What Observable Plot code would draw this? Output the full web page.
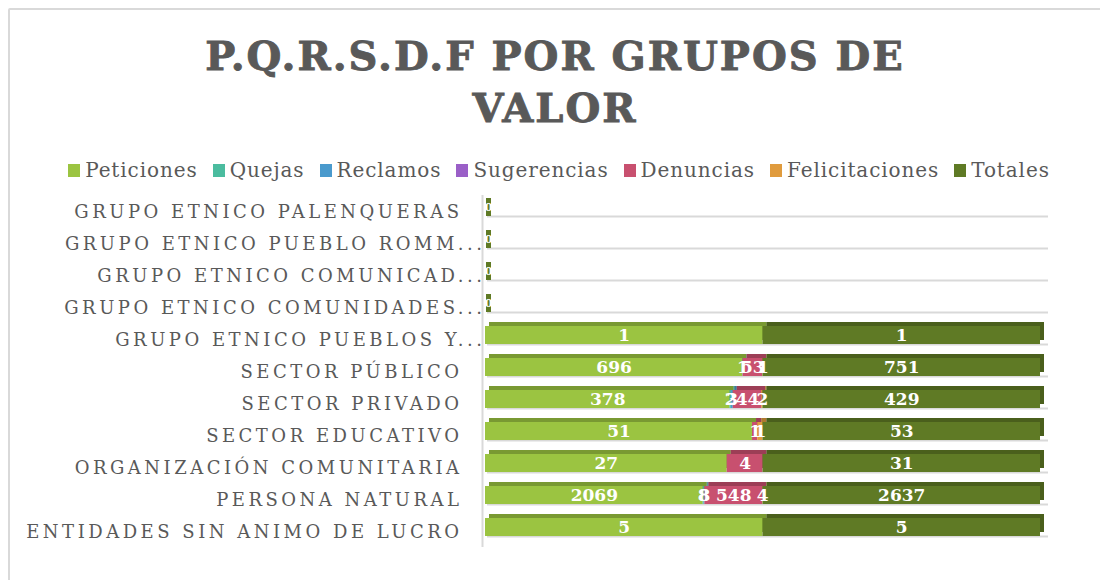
<!DOCTYPE html>
<html>
<head>
<meta charset="utf-8">
<script src="https://cdn.jsdelivr.net/npm/d3@7"></script>
<script src="https://cdn.jsdelivr.net/npm/@observablehq/plot@0.6"></script>
<style>
  html, body { margin: 0; padding: 0; background: #fff; }
  body { width: 1100px; height: 580px; overflow: hidden; position: relative; font-family: "DejaVu Serif", serif; }
  #frame { position: absolute; left: 8px; top: 8px; width: 1120px; height: 620px; border: 2px solid #d9d9d9; border-radius: 2px; }
  #title { position: absolute; left: 10px; width: 1090px; top: 30px; text-align: center; color: #595959;
           font-weight: bold; font-size: 40px; letter-spacing: 2px; line-height: 52px; white-space: nowrap;
           -webkit-text-stroke: 0.9px #595959; }
  #legend { position: absolute; top: 158px; left: 0; width: 1118px; display: flex; justify-content: center; gap: 15px;
            color: #595959; font-size: 20px; letter-spacing: 0.9px; white-space: nowrap; }
  #legend .item { display: flex; align-items: center; gap: 5px; }
  #legend .sw { width: 12px; height: 13px; display: inline-block; }
  #chart { position: absolute; left: 0; top: 190px; }
  #chart g[aria-label="y-axis tick label"] { letter-spacing: 3.5px; }
</style>
</head>
<body>
<div id="frame"></div>
<div id="title">P.Q.R.S.D.F POR GRUPOS DE<br>VALOR</div>
<div id="legend"></div>
<div id="chart"></div>
<script>
const categories = [
  "GRUPO ETNICO PALENQUERAS",
  "GRUPO ETNICO PUEBLO ROMM...",
  "GRUPO ETNICO COMUNICAD...",
  "GRUPO ETNICO COMUNIDADES...",
  "GRUPO ETNICO PUEBLOS Y...",
  "SECTOR PÚBLICO",
  "SECTOR PRIVADO",
  "SECTOR EDUCATIVO",
  "ORGANIZACIÓN COMUNITARIA",
  "PERSONA NATURAL",
  "ENTIDADES SIN ANIMO DE LUCRO"
];
const seriesNames = ["Peticiones", "Quejas", "Reclamos", "Sugerencias", "Denuncias", "Felicitaciones", "Totales"];
const seriesColors = ["#9bc441", "#4bbc9f", "#4a9acd", "#9a5fc7", "#c8506f", "#e09b3d", "#5f7a25"];

const peticiones     = [0, 0, 0, 0, 1, 696, 378, 51, 27, 2069, 5];
const quejas         = [0, 0, 0, 0, 0, 1, 2, 0, 0, 8, 0];
const reclamos       = [0, 0, 0, 0, 0, 0, 3, 0, 0, 8, 0];
const sugerencias    = [0, 0, 0, 0, 0, 0, 0, 0, 0, 0, 0];
const denuncias      = [0, 0, 0, 0, 0, 53, 44, 1, 4, 548, 0];
const felicitaciones = [0, 0, 0, 0, 0, 1, 2, 1, 0, 4, 0];
const totales        = [0, 0, 0, 0, 1, 751, 429, 53, 31, 2637, 5];

const seriesValues = [peticiones, quejas, reclamos, sugerencias, denuncias, felicitaciones, totales];

const data = [];
categories.forEach((c, i) => {
  seriesNames.forEach((s, j) => {
    data.push({group: c, series: s, value: seriesValues[j][i]});
  });
});
const zeroRows = categories.filter((c, i) => totales[i] === 0);
const truncated = categories.filter(c => c.endsWith("..."));
const full = categories.filter(c => !c.endsWith("..."));

// legend
const legend = document.getElementById("legend");
seriesNames.forEach((s, j) => {
  const it = document.createElement("span");
  it.className = "item";
  it.innerHTML = `<span class="sw" style="background:${seriesColors[j]}"></span><span>${s}</span>`;
  legend.appendChild(it);
});

const stackOpts = (extra) => Plot.stackX({x: "value", y: "group", z: "series", offset: "normalize", ...extra});

const chart = Plot.plot({
  width: 1100,
  height: 375,
  marginLeft: 485,
  marginRight: 60,
  marginTop: 5,
  marginBottom: 26,
  style: {fontFamily: "DejaVu Serif", background: "transparent", overflow: "visible"},
  x: {domain: [0, 1], axis: null},
  y: {domain: categories, paddingInner: 0.448, paddingOuter: 0, axis: null},
  color: {domain: seriesNames, range: seriesColors},
  marks: [
    Plot.ruleX([0], {dx: -3, stroke: "#d9d9d9", strokeWidth: 2, insetBottom: -8}),
    Plot.ruleY(categories, {y: d => d, dy: 9, dx: 2, insetRight: -6, stroke: "#d9d9d9", strokeWidth: 2}),
    // 3D back faces (top / side)
    Plot.barX(data, stackOpts({fill: "series", dx: 4, dy: -4})),
    Plot.barX(data, stackOpts({fill: "#000", fillOpacity: 0.22, dx: 4, dy: -4})),
    // front faces
    Plot.barX(data, stackOpts({fill: "series"})),
    // zero rows marker
    Plot.tickX(zeroRows, {x: 0, y: d => d, dx: 3, stroke: "#5f7a25", strokeWidth: 5}),
    Plot.text(zeroRows, {x: 0, y: d => d, text: () => "0", dx: 3, fill: "#fff", fontSize: 11, fontWeight: "bold"}),
    // labels
    Plot.textX(data, stackOpts({filter: d => d.value > 0, text: d => String(d.value), fill: "#fff",
      fontSize: 17, fontWeight: "bold"})),
    // category axis
    Plot.axisY(full, {anchor: "left", tickSize: 0, tickPadding: 23, dy: 5, fontSize: 18, fill: "#595959", label: null}),
    Plot.axisY(truncated, {anchor: "left", tickSize: 0, tickPadding: 0, dy: 5, fontSize: 18, fill: "#595959", label: null})
  ]
});
document.getElementById("chart").appendChild(chart);
</script>
</body>
</html>
